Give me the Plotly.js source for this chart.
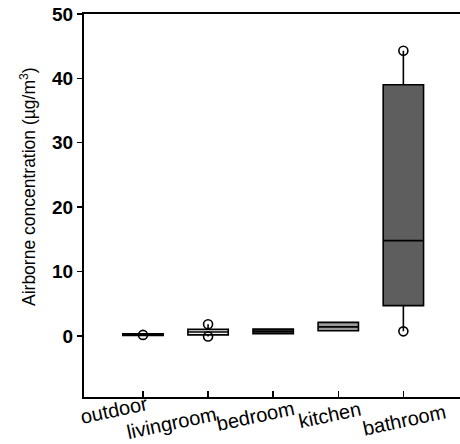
<!DOCTYPE html>
<html>
<head>
<meta charset="utf-8">
<script src="https://cdn.plot.ly/plotly-3.0.1.min.js"></script>
<style>html,body{margin:0;padding:0;background:#fff;}#chart{width:460px;height:444px;}</style>
</head>
<body>
<div id="chart"></div>
<script>
// Data
const categories = ['outdoor', 'livingroom', 'bedroom', 'kitchen', 'bathroom'];
const q1Values = [0.05, 0.15, 0.35, 0.8, 4.7];
const medianValues = [0.15, 0.6, 0.7, 1.4, 14.8];
const q3Values = [0.3, 1.0, 1.05, 2.1, 39.0];
const lowWhisker = [0.05, -0.1, 0.35, 0.8, 0.7];
const highWhisker = [0.3, 1.8, 1.05, 2.1, 44.3];
// open-circle markers (extremes)
const circleCats = ['outdoor', 'livingroom', 'livingroom', 'bathroom', 'bathroom'];
const circleValues = [0.15, 1.8, -0.1, 44.3, 0.7];
const yTitle = 'Airborne concentration (µg/m<sup>3</sup>)';

const fills = ['#ffffff', '#f4f4f4', '#4a4a4a', '#9a9a9a', '#5e5e5e'];

const traces = categories.map((c, i) => ({
  type: 'box',
  x: [c],
  q1: [q1Values[i]],
  median: [medianValues[i]],
  q3: [q3Values[i]],
  lowerfence: [lowWhisker[i]],
  upperfence: [highWhisker[i]],
  width: 0.62,
  whiskerwidth: 0,
  fillcolor: fills[i],
  line: {color: '#000', width: 1.6},
  boxpoints: false,
  hoverinfo: 'skip',
  showlegend: false
}));

traces.push({
  type: 'scatter',
  mode: 'markers',
  x: circleCats,
  y: circleValues,
  marker: {symbol: 'circle-open', size: 9, color: '#000', line: {width: 1.6, color: '#000'}},
  showlegend: false,
  hoverinfo: 'skip'
});

const xShift = [-29, -37, -18, -9, 1];
const yShift = [-13, -26, -19, -18, -23];
const annotations = categories.map((c, i) => ({
  x: c, xref: 'x', y: 0, yref: 'paper',
  text: c, showarrow: false, textangle: -12,
  xanchor: 'center', yanchor: 'middle',
  xshift: xShift[i], yshift: yShift[i],
  font: {family: 'Liberation Sans, Arial, sans-serif', size: 20, color: '#000'}
}));
annotations.push({
  x: 0, xref: 'paper', xanchor: 'center', xshift: -56,
  y: 1, yref: 'paper', yanchor: 'middle', yshift: -173,
  text: yTitle, textangle: -90, showarrow: false,
  font: {family: 'Liberation Sans, Arial, sans-serif', size: 17.5, color: '#000'}
});

const layout = {
  width: 460, height: 444,
  margin: {l: 84, r: 0, t: 14, b: 47},
  paper_bgcolor: '#fff', plot_bgcolor: '#fff',
  font: {family: 'Liberation Sans, Arial, sans-serif', color: '#000'},
  xaxis: {
    type: 'category',
    categoryorder: 'array', categoryarray: categories,
    range: [-0.906, 4.87],
    showline: true, linecolor: '#000', linewidth: 2, mirror: true,
    ticks: 'inside', ticklen: 6, tickwidth: 1.5, tickcolor: '#000',
    showticklabels: false, showgrid: false, zeroline: false
  },
  yaxis: {
    range: [-9.5, 50],
    tickvals: [0, 10, 20, 30, 40, 50],
    showline: true, linecolor: '#000', linewidth: 2,
    ticks: 'outside', ticklen: 5, tickwidth: 1.5, tickcolor: '#000',
    tickfont: {size: 19, weight: 'bold', family: 'Liberation Sans, Arial, sans-serif', color: '#000'},
    showgrid: false, zeroline: false
  },
  annotations: annotations
};

Plotly.newPlot('chart', traces, layout, {staticPlot: true, displayModeBar: false});
</script>
</body>
</html>
